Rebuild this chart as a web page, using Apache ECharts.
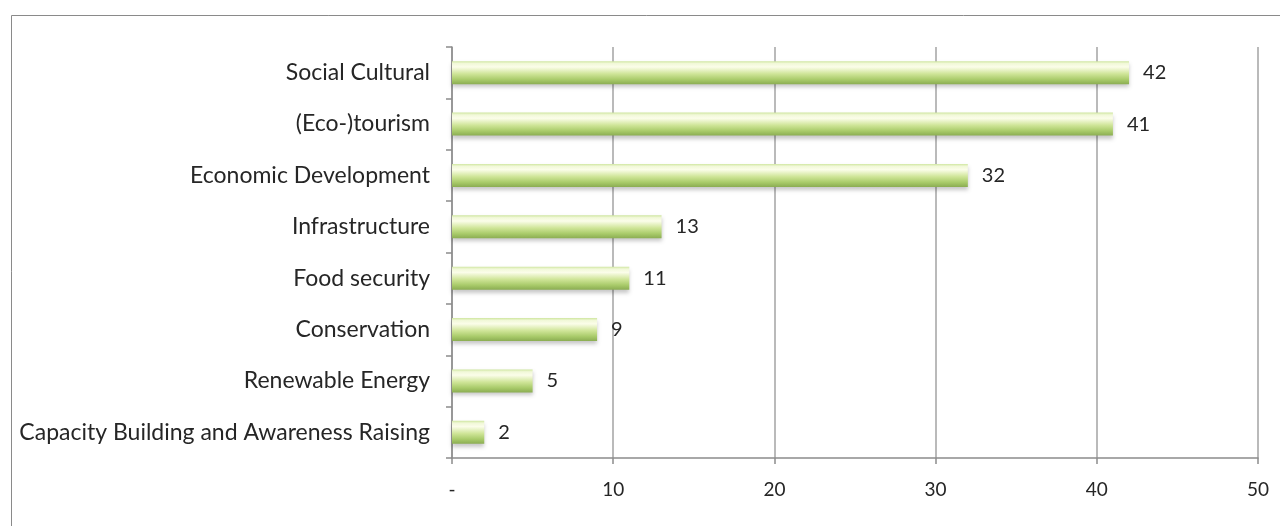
<!DOCTYPE html>
<html>
<head>
<meta charset="utf-8">
<script src="https://cdn.jsdelivr.net/npm/echarts@6/dist/echarts.min.js"></script>
<style>
  html, body { margin: 0; padding: 0; background: #fff; }
  #chart { width: 1280px; height: 526px; }
</style>
</head>
<body>
<div id="chart"></div>
<script>
// Themes of the projects, top to bottom
const categories = [
  'Social Cultural',
  '(Eco-)tourism',
  'Economic Development',
  'Infrastructure',
  'Food security',
  'Conservation',
  'Renewable Energy',
  'Capacity Building and Awareness Raising'
];
const counts = [42, 41, 32, 13, 11, 9, 5, 2];
const xTicks = [0, 10, 20, 30, 40, 50];

const FONT = 'Lato, "Open Sans", sans-serif';
const TEXT = '#262626';
const LINE = '#8c8c8c';

// cylinder-like shading for the bars
const barFill = new echarts.graphic.LinearGradient(0, 0, 0, 1, [
  { offset: 0, color: '#cfe6a0' },
  { offset: 0.1, color: '#f1f8d8' },
  { offset: 0.25, color: '#fbfde9' },
  { offset: 0.55, color: '#cfe598' },
  { offset: 0.8, color: '#a9cb6a' },
  { offset: 1, color: '#8bad52' }
]);

const chart = echarts.init(document.getElementById('chart'));
chart.setOption({
  animation: false,
  backgroundColor: '#fff',
  graphic: [{
    type: 'rect',
    shape: { x: 11.5, y: 15.5, width: 1300, height: 600 },
    style: { fill: 'none', stroke: '#8a8a8a', lineWidth: 1 },
    silent: true
  }],
  grid: { left: 452, right: 22, top: 47, bottom: 68 },
  xAxis: {
    type: 'value',
    min: xTicks[0],
    max: xTicks[xTicks.length - 1],
    interval: 10,
    axisLine: { show: true, lineStyle: { color: LINE, width: 1.5 } },
    axisTick: { show: true, length: 6, lineStyle: { color: LINE, width: 1.5 } },
    splitLine: { show: true, lineStyle: { color: '#a3a3a3', width: 1.5 } },
    axisLabel: {
      margin: 22,
      color: TEXT,
      fontFamily: FONT,
      fontSize: 19,
      formatter: v => (v === 0 ? '-' : String(v))
    }
  },
  yAxis: {
    type: 'category',
    data: categories,
    inverse: true,
    axisLine: { show: true, lineStyle: { color: LINE, width: 1.5 } },
    axisTick: { show: true, length: 6, lineStyle: { color: LINE, width: 1.5 } },
    axisLabel: {
      margin: 22,
      color: TEXT,
      fontFamily: FONT,
      fontSize: 23
    }
  },
  series: [{
    type: 'bar',
    data: counts,
    barWidth: 23,
    itemStyle: {
      color: barFill,
      shadowColor: 'rgba(0,0,0,0.22)',
      shadowBlur: 4,
      shadowOffsetY: 3
    },
    label: {
      show: true,
      position: 'right',
      distance: 14,
      color: TEXT,
      fontFamily: FONT,
      fontSize: 20
    }
  }]
});
</script>
</body>
</html>
